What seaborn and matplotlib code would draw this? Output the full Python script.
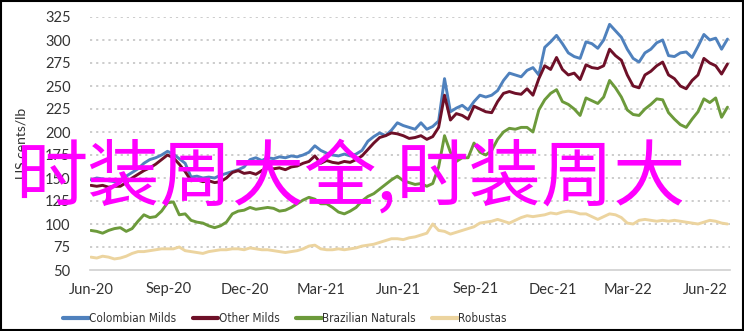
import matplotlib
matplotlib.use("Agg")
import matplotlib.pyplot as plt
import matplotlib.dates as mdates
from matplotlib import font_manager
from matplotlib.lines import Line2D
from matplotlib.patches import Rectangle
import seaborn as sns
import pandas as pd

# ---------------- data (weekly, US cents/lb) ----------------
start_date = "2020-06-01"
n_weeks = 109

colombian_milds = [
    148, 150, 149, 147, 146, 147, 152, 156, 160, 166,
    170, 172, 175, 179, 176, 171, 166, 151, 152, 150,
    151, 150, 153, 155, 157, 159, 162, 170, 172, 169,
    172, 171, 173, 172, 174, 173, 175, 178, 185, 180,
    177, 175, 174, 176, 174, 176, 180, 190, 195, 199,
    196, 202, 210, 207, 205, 203, 210, 203, 206, 212,
    258, 222, 226, 229, 224, 233, 240, 238, 240, 245,
    256, 264, 262, 260, 267, 270, 262, 292, 298, 305,
    296, 286, 282, 280, 298, 296, 291, 300, 317, 310,
    303, 290, 280, 276, 286, 290, 297, 300, 283, 282,
    286, 287, 281, 293, 306, 300, 302, 290, 301,
]
other_milds = [
    142, 141, 142, 140, 141, 141, 145, 150, 154, 158,
    161, 165, 170, 175, 172, 165, 157, 147, 148, 146,
    147, 145, 146, 150, 156, 158, 155, 156, 154, 158,
    161, 160, 161, 159, 162, 163, 166, 168, 174, 166,
    169, 167, 166, 168, 167, 170, 174, 181, 188, 194,
    196, 199, 198, 196, 193, 194, 196, 192, 195, 205,
    240, 213, 220, 218, 214, 228, 225, 222, 221, 233,
    242, 244, 242, 241, 247, 240, 258, 272, 268, 281,
    268, 262, 264, 257, 273, 270, 269, 272, 290, 283,
    278, 262, 250, 248, 262, 266, 272, 276, 262, 258,
    250, 247, 256, 262, 280, 275, 272, 263, 274,
]
brazilian_naturals = [
    93, 92, 90, 93, 95, 96, 92, 95, 103, 110,
    107, 108, 114, 123, 124, 110, 111, 104, 102, 101,
    98, 96, 98, 102, 111, 114, 115, 118, 116, 117,
    118, 117, 114, 115, 118, 122, 126, 129, 127, 122,
    122, 118, 113, 111, 114, 118, 125, 130, 133, 138,
    143, 148, 152, 147, 145, 143, 144, 141, 144, 162,
    196, 178, 168, 172, 172, 188, 178, 175, 180, 192,
    200, 204, 203, 205, 205, 200, 224, 235, 242, 246,
    233, 230, 225, 218, 237, 234, 231, 238, 256, 248,
    238, 224, 219, 218, 225, 230, 236, 235, 221, 214,
    208, 205, 214, 222, 236, 232, 237, 216, 227,
]
robustas = [
    64, 63, 65, 64, 62, 63, 65, 68, 70, 70,
    71, 72, 73, 73, 73, 75, 71, 70, 69, 68,
    70, 71, 72, 72, 73, 73, 72, 74, 73, 72,
    72, 71, 70, 69, 70, 71, 73, 76, 77, 73,
    72, 72, 73, 72, 73, 74, 76, 77, 78, 80,
    82, 84, 84, 83, 85, 86, 88, 90, 100, 93,
    92, 89, 91, 93, 95, 97, 101, 102, 103, 105,
    103, 101, 104, 107, 109, 108, 109, 110, 112, 111,
    113, 114, 113, 111, 111, 108, 105, 108, 111, 110,
    107, 101, 100, 104, 105, 104, 103, 104, 103, 104,
    103, 102, 101, 100, 102, 104, 103, 101, 100,
]

series_names = ["Colombian Milds", "Other Milds", "Brazilian Naturals", "Robustas"]
series_values = [colombian_milds, other_milds, brazilian_naturals, robustas]
series_colors = ["#4f81bd", "#6e1028", "#6c9a3b", "#ecd49f"]

y_label = "US cents/lb"
y_ticks = [50, 75, 100, 125, 150, 175, 200, 225, 250, 275, 300, 325]
watermark = "时装周大全,时装周大"

dates = pd.date_range(start_date, periods=n_weeks, freq="7D")
frames = []
for name, vals in zip(series_names, series_values):
    frames.append(pd.DataFrame({"date": dates, "value": vals, "series": name}))
df = pd.concat(frames, ignore_index=True)

# ---------------- figure ----------------
sns.set_theme(style="white")
plt.rcParams["font.family"] = ["Lato", "DejaVu Sans"]

# look for a condensed / narrow regular font for the legend
candidates = []
for f in font_manager.fontManager.ttflist:
    nm = f.name.lower()
    base = f.fname.lower().rsplit("/", 1)[-1]
    if not ("narrow" in nm or "condensed" in nm or "condensed" in base or "narrow" in base):
        continue
    if any(k in base for k in ("extra", "semi", "ultra", "bold", "italic", "oblique",
                               "light", "thin", "medium", "black", "mono", "serif")):
        continue
    if f.style != "normal" or f.weight not in (400, "normal", "regular"):
        continue
    candidates.append(f)
if candidates:
    candidates.sort(key=lambda f: f.fname)
    legend_prop = font_manager.FontProperties(fname=candidates[0].fname, size=8.4)
else:
    legend_prop = font_manager.FontProperties(family=["Lato", "DejaVu Sans"], size=8.4)

W, H = 744, 331
fig = plt.figure(figsize=(W / 100, H / 100), dpi=100)
ax = fig.add_axes([90 / W, (H - 270) / H, 640 / W, 253 / H])

sns.lineplot(data=df, x="date", y="value", hue="series",
             hue_order=series_names, palette=series_colors,
             linewidth=2.1, ax=ax, legend=False)

ax.set_ylim(50, 325)
ax.set_yticks(y_ticks)
ax.set_xlim(pd.Timestamp("2020-05-31"), pd.Timestamp("2022-06-30"))
ax.xaxis.set_major_locator(mdates.MonthLocator(bymonth=[3, 6, 9, 12]))
ax.xaxis.set_major_formatter(mdates.DateFormatter("%b-%y"))

for y in y_ticks[1:]:
    ax.axhline(y, color="#c8c8c8", linewidth=1.3, linestyle=(0, (1.2, 2.2)), zorder=0)

for s in ["top", "right", "left"]:
    ax.spines[s].set_visible(False)
ax.spines["bottom"].set_color("#d0d0d0")
ax.spines["bottom"].set_linewidth(1.2)
ax.grid(False)
ax.tick_params(axis="both", length=0, labelsize=10.5, colors="#333333")
ax.tick_params(axis="x", pad=9)
ax.tick_params(axis="y", pad=14)
ax.set_xlabel("")
ax.set_ylabel(y_label, fontsize=10, color="#333333")
ax.yaxis.set_label_coords(-62 / 640, 0.5)

handles = [Line2D([0], [0], color=c, linewidth=3) for c in series_colors]
fig.legend(handles, series_names, loc="center left", bbox_to_anchor=(57 / W, 12 / H),
           ncol=4, frameon=False, handlelength=2.2, handletextpad=0.05,
           columnspacing=1.4, prop=legend_prop, labelcolor="#333333",
           borderaxespad=0, borderpad=0.5)

fig.text(15 / W, 1 - 178 / H, watermark, color="#ff00ff", fontsize=52,
         family=["Noto Sans CJK SC", "DejaVu Sans"], weight="medium",
         ha="left", va="center", zorder=10)

fig.patches.append(Rectangle((0.001, 0.002), 0.997, 0.995, transform=fig.transFigure,
                             fill=False, edgecolor="black", linewidth=1.5))

fig.savefig("out.png", dpi=100)
